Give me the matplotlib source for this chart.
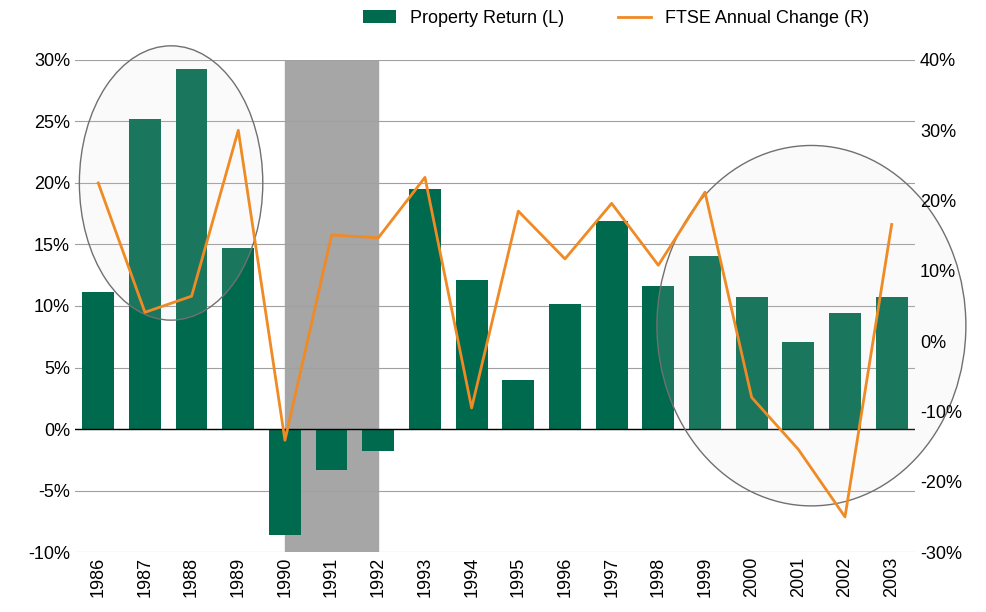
import matplotlib
matplotlib.use("Agg")
import matplotlib.pyplot as plt
from matplotlib.patches import Ellipse
import numpy as np

plt.rcParams['font.family'] = ['Liberation Sans Narrow', 'Liberation Sans', 'DejaVu Sans']

years = [str(y) for y in range(1986, 2004)]
property_return = [11.1, 25.2, 29.3, 14.7, -8.6, -3.3, -1.8, 19.5, 12.1, 4.0,
                   10.2, 16.9, 11.6, 14.1, 10.7, 7.1, 9.4, 10.7]
ftse_change = [22.5, 4.1, 6.4, 30.0, -14.1, 15.1, 14.7, 23.3, -9.5, 18.5,
               11.7, 19.6, 10.8, 21.2, -8.0, -15.4, -25.0, 16.6]

green = '#006a4e'
orange = '#f08a24'

fig = plt.figure(figsize=(9.86, 6.12), dpi=100)
ax = fig.add_axes([0.076, 0.098, 0.852, 0.804])
x = np.arange(len(years))

ax.axvspan(4, 6, color='#a6a6a6', zorder=0)
ax.bar(x, property_return, width=0.68, color=green, zorder=2, label='Property Return (L)')
ax.axhline(0, color='black', lw=1, zorder=3)
ax.set_ylim(-10, 30)
ax.set_xlim(-0.5, len(years) - 0.5)
ax.set_yticks(range(-10, 31, 5))
ax.set_yticklabels([f'{v}%' for v in range(-10, 31, 5)], fontsize=13)
ax.yaxis.grid(True, color='#a0a0a0', lw=0.8, zorder=1)
ax.set_axisbelow(True)
ax.set_xticks(x)
ax.set_xticklabels(years, rotation=90, fontsize=13)
ax.tick_params(length=0)
for s in ax.spines.values():
    s.set_visible(False)

for (cx, cy, w, h) in [(1.56, 20.0, 3.93, 22.3), (15.28, 8.4, 6.62, 29.3)]:
    ax.add_patch(Ellipse((cx, cy), w, h, facecolor=(0.85, 0.85, 0.85, 0.12),
                         edgecolor='#707070', lw=1, zorder=4, clip_on=False))

ax2 = ax.twinx()
ax2.plot(x, ftse_change, color=orange, lw=2, label='FTSE Annual Change (R)')
ax2.set_ylim(-30, 40)
ax2.set_yticks(range(-30, 41, 10))
ax2.set_yticklabels([f'{v}%' for v in range(-30, 41, 10)], fontsize=13)
ax2.tick_params(length=0)
for s in ax2.spines.values():
    s.set_visible(False)

h1, l1 = ax.get_legend_handles_labels()
h2, l2 = ax2.get_legend_handles_labels()
fig.legend(h1 + h2, l1 + l2, loc='upper center', bbox_to_anchor=(0.625, 1.01),
           ncol=2, frameon=False, fontsize=13, handlelength=1.8, columnspacing=3)

fig.savefig('out.png', dpi=100)
